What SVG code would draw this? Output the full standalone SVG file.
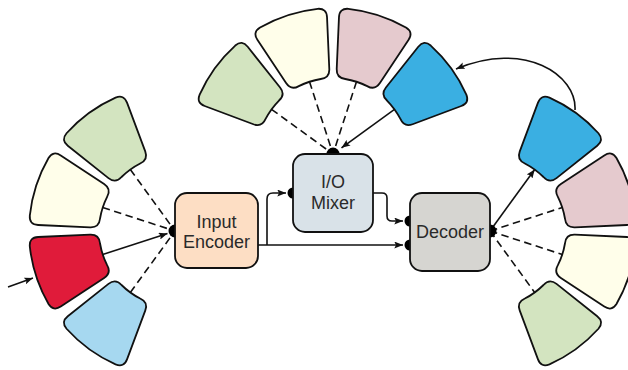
<svg xmlns="http://www.w3.org/2000/svg" width="628" height="370" viewBox="0 0 628 370">
<style>
.seg{stroke:#111;stroke-width:1.8;stroke-linejoin:round}
.box{stroke:#111;stroke-width:1.8}
.green{fill:#d3e4c0}
.cream{fill:#fffeea}
.red{fill:#e01b3a}
.lblue{fill:#a6d8f0}
.pink{fill:#e5cace}
.blue{fill:#3aafe2}
.dash{fill:none;stroke:#111;stroke-width:1.6;stroke-dasharray:7.5 4.5}
.sol{fill:none;stroke:#111;stroke-width:1.6}
.dot{fill:#000}
text{font-family:"Liberation Sans",Arial,Helvetica,sans-serif;font-size:18px;fill:#2a2a2a;text-anchor:middle}
</style>
<defs>
<path id="seg" d="M75.12,-11.52 Q73.24,-20.31 81.91,-22.72 L132.02,-36.61 Q140.69,-39.02 142.83,-30.28 A146,146 0 0 1 142.83,30.28 Q140.69,39.02 132.02,36.61 L81.91,22.72 Q73.24,20.31 75.12,11.52 A76,76 0 0 0 75.12,-11.52 Z"/>
<marker id="ah" viewBox="0 0 10 8" refX="10" refY="4" markerWidth="9" markerHeight="7" orient="auto" markerUnits="userSpaceOnUse"><path d="M0,0 L10,4 L0,8 L2,4 Z" fill="#111"/></marker>
</defs>

<g id="left-green"><use href="#seg" class="seg green" transform="translate(175,231) rotate(234)"/></g>
<g id="left-cream"><use href="#seg" class="seg cream" transform="translate(175,231) rotate(198)"/></g>
<g id="left-red"><use href="#seg" class="seg red" transform="translate(175,231) rotate(162)"/></g>
<g id="left-lightblue"><use href="#seg" class="seg lblue" transform="translate(175,231) rotate(126)"/></g>

<g id="top-green"><use href="#seg" class="seg green" transform="translate(333,154) rotate(-144)"/></g>
<g id="top-cream"><use href="#seg" class="seg cream" transform="translate(333,154) rotate(-108)"/></g>
<g id="top-pink"><use href="#seg" class="seg pink" transform="translate(333,154) rotate(-72)"/></g>
<g id="top-blue"><use href="#seg" class="seg blue" transform="translate(333,154) rotate(-36)"/></g>

<g id="right-blue"><use href="#seg" class="seg blue" transform="translate(490,231) rotate(-54)"/></g>
<g id="right-pink"><use href="#seg" class="seg pink" transform="translate(490,231) rotate(-18)"/></g>
<g id="right-cream"><use href="#seg" class="seg cream" transform="translate(490,231) rotate(18)"/></g>
<g id="right-green"><use href="#seg" class="seg green" transform="translate(490,231) rotate(54)"/></g>

<g id="connectors">
<path class="sol" d="M8,287 L33,278" marker-end="url(#ah)"/>
<path class="dash" d="M130.3,169.5 L175,231"/>
<path class="dash" d="M102.7,207.5 L175,231"/>
<path class="sol" d="M102.7,254.5 L167.5,233.5" marker-end="url(#ah)"/>
<path class="dash" d="M130.3,292.5 L175,231"/>

<path class="dash" d="M271.5,109.3 L333,154"/>
<path class="dash" d="M309.5,81.7 L333,154"/>
<path class="dash" d="M356.5,81.7 L333,154"/>
<path class="sol" d="M394.5,109.3 L341.5,147.8" marker-end="url(#ah)"/>

<path class="sol" d="M490,231 L534.7,169.5" marker-end="url(#ah)"/>
<path class="dash" d="M490,231 L562.3,207.5"/>
<path class="dash" d="M490,231 L562.3,254.5"/>
<path class="dash" d="M490,231 L534.7,292.5"/>

<path class="sol" d="M575,110 C577,75 525,40 456,69" marker-end="url(#ah)"/>

<path class="sol" d="M258,245 L403,245" marker-end="url(#ah)"/>
<path class="sol" d="M267,245 L267,199 Q267,193 273,193 L286,193" marker-end="url(#ah)"/>
<path class="sol" d="M373,193 L382,193 Q387,193 387,198 L387,216 Q387,221 392,221 L403,221" marker-end="url(#ah)"/>
</g>

<g id="input-encoder">
<circle class="dot" cx="175" cy="231" r="6.5"/>
<rect class="box" x="175" y="193" width="83" height="75" rx="12" fill="#fddec4"/>
<text x="216.5" y="228">Input</text>
<text x="216.5" y="248">Encoder</text>
</g>
<g id="io-mixer">
<circle class="dot" cx="333" cy="154" r="6.5"/>
<circle class="dot" cx="293" cy="193" r="5.5"/>
<rect class="box" x="293" y="154" width="80" height="78" rx="12" fill="#d9e2e8"/>
<text x="333" y="188">I/O</text>
<text x="333" y="209">Mixer</text>
</g>
<g id="decoder">
<circle class="dot" cx="490" cy="231" r="6.5"/>
<circle class="dot" cx="410" cy="221" r="5.5"/>
<circle class="dot" cx="410" cy="245" r="5.5"/>
<rect class="box" x="410" y="193" width="80" height="78" rx="12" fill="#d6d5d1"/>
<text x="450" y="238">Decoder</text>
</g>
</svg>
